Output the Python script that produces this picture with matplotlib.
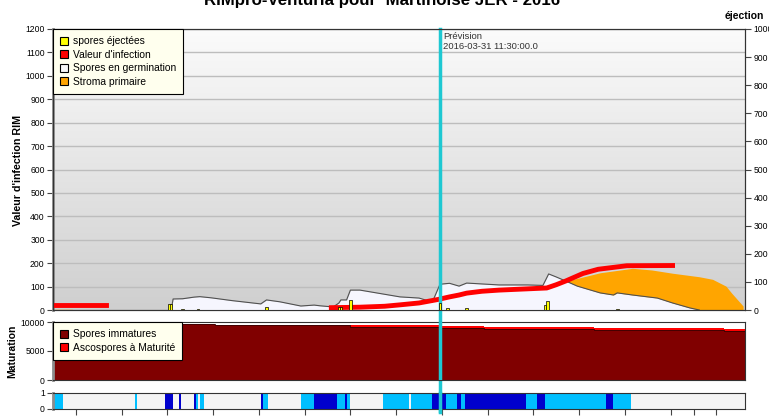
import numpy as np
import matplotlib
matplotlib.use("Agg")
import matplotlib.pyplot as plt
import matplotlib.dates as mdates
from matplotlib.patches import Patch
from matplotlib.colors import LinearSegmentedColormap

plt.rcParams['font.family'] = ['Liberation Sans', 'DejaVu Sans']

# --- data ---
x_start, x_end = "2016-03-27 06:00", "2016-04-03 19:30"
prevision = "2016-03-31 11:30"

# valeur d'infection RIM (two pieces)
inf_a_time = ["2016-03-27 06:00", "2016-03-27 20:00"]
inf_a_val = [20, 20]
inf_b_time = ["2016-03-30 07:00", "2016-03-30 14:30", "2016-03-30 21:00", "2016-03-31 01:00",
              "2016-03-31 06:00", "2016-03-31 11:00", "2016-03-31 14:00", "2016-03-31 16:30",
              "2016-03-31 18:30", "2016-03-31 22:30", "2016-04-01 03:00", "2016-04-01 15:30",
              "2016-04-01 18:00", "2016-04-01 20:30", "2016-04-02 01:00", "2016-04-02 05:00",
              "2016-04-02 12:30", "2016-04-03 00:30"]
inf_b_val = [10, 12, 16, 22, 30, 45, 56, 64, 72, 80, 85, 94, 108, 124, 156, 174, 189, 190]

# spores en germination
germ_time = ["2016-03-28 13:00", "2016-03-28 13:30", "2016-03-28 16:00", "2016-03-28 19:00",
             "2016-03-28 20:30", "2016-03-28 23:30", "2016-03-29 05:00", "2016-03-29 12:30",
             "2016-03-29 14:00", "2016-03-29 17:30", "2016-03-29 23:00", "2016-03-30 02:30",
             "2016-03-30 04:00", "2016-03-30 07:30", "2016-03-30 09:00", "2016-03-30 09:30",
             "2016-03-30 11:00", "2016-03-30 12:00", "2016-03-30 14:30", "2016-03-31 01:00",
             "2016-03-31 06:00", "2016-03-31 09:30", "2016-03-31 11:30", "2016-03-31 14:00",
             "2016-03-31 16:30", "2016-03-31 18:30", "2016-04-01 03:00", "2016-04-01 10:30",
             "2016-04-01 14:30", "2016-04-01 16:00", "2016-04-01 18:00", "2016-04-01 21:00",
             "2016-04-01 23:30", "2016-04-02 05:30", "2016-04-02 09:00", "2016-04-02 10:00",
             "2016-04-02 14:00", "2016-04-02 20:30", "2016-04-03 00:30", "2016-04-03 05:00",
             "2016-04-03 07:30"]
germ_val = [0, 47, 48, 55, 57, 52, 40, 26, 43, 35, 17, 21, 18, 13, 30, 43, 43, 85, 85, 56,
            51, 34, 110, 114, 102, 115, 107, 107, 105, 154, 141, 120, 102, 73, 64, 73, 64, 51,
            30, 9, 0]

# stroma primaire
stroma_time = ["2016-03-27 06:00", "2016-03-27 11:00", "2016-03-27 11:30", "2016-04-01 14:00",
               "2016-04-01 18:00", "2016-04-01 21:00", "2016-04-01 23:30", "2016-04-02 05:30",
               "2016-04-02 14:00", "2016-04-02 19:00", "2016-04-03 00:30", "2016-04-03 07:30",
               "2016-04-03 11:00", "2016-04-03 14:30", "2016-04-03 16:00", "2016-04-03 19:00"]
stroma_val = [3, 3, 0, 0, 90, 125, 135, 159, 178, 171, 157, 142, 131, 102, 72, 17]

# spores éjectées (right axis)
eject_time = ["2016-03-28 12:30", "2016-03-28 13:00", "2016-03-28 16:00", "2016-03-28 20:00",
              "2016-03-29 14:00", "2016-03-30 09:00", "2016-03-30 09:30", "2016-03-30 12:00",
              "2016-03-31 11:30", "2016-03-31 13:30", "2016-03-31 18:30", "2016-04-01 15:00",
              "2016-04-01 15:45", "2016-04-02 10:00"]
eject_val = [22, 22, 3, 2, 11, 10, 10, 36, 24, 8, 8, 18, 33, 5]

# maturation (steps)
mat_time = ["2016-03-27 06:00", "2016-03-28 14:30", "2016-03-29 00:30", "2016-03-29 16:30",
            "2016-03-30 12:00", "2016-03-31 11:30", "2016-03-31 23:00", "2016-04-02 04:00",
            "2016-04-03 00:00", "2016-04-03 14:00", "2016-04-03 19:30"]
immature_val = [9850, 9650, 9500, 9450, 9200, 8950, 8850, 8650, 8550, 8450, 8450]
mature_val = [50, 60, 60, 80, 200, 350, 300, 300, 350, 400, 400]

# bottom strip: segment start times (last = end) and state 0/1/2
wet_time = ["2016-03-27 06:00", "2016-03-27 08:30", "2016-03-28 03:30", "2016-03-28 04:00",
            "2016-03-28 11:30", "2016-03-28 13:30", "2016-03-28 15:00", "2016-03-28 15:30",
            "2016-03-28 19:00", "2016-03-28 19:30", "2016-03-28 20:00", "2016-03-28 20:30",
            "2016-03-28 21:30", "2016-03-29 12:30", "2016-03-29 13:00", "2016-03-29 14:30",
            "2016-03-29 23:00", "2016-03-30 02:30", "2016-03-30 08:30", "2016-03-30 10:30",
            "2016-03-30 11:00", "2016-03-30 12:00", "2016-03-30 20:30", "2016-03-31 03:30",
            "2016-03-31 04:00", "2016-03-31 09:30", "2016-03-31 13:00", "2016-03-31 16:00",
            "2016-03-31 17:00", "2016-03-31 18:00", "2016-04-01 10:00", "2016-04-01 13:00",
            "2016-04-01 15:00", "2016-04-02 07:00", "2016-04-02 09:00", "2016-04-02 13:30",
            "2016-04-03 19:30"]
wet_state = [1, 0, 1, 0, 2, 0, 2, 0, 2, 1, 0, 1, 0, 2, 1, 0, 1, 2, 1, 2, 1, 0, 1, 0, 1, 2,
             1, 2, 1, 2, 1, 2, 1, 2, 1, 0]
wet_colors = ['#F4F4F4', '#00BFFF', '#0000CD']

tick_time = ["2016-03-27 12:00", "2016-03-28 00:00", "2016-03-28 12:00", "2016-03-29 00:00",
             "2016-03-29 12:00", "2016-03-30 00:00", "2016-03-30 12:00", "2016-03-31 00:00",
             "2016-03-31 12:00", "2016-04-01 00:00", "2016-04-01 12:00", "2016-04-02 00:00",
             "2016-04-02 12:00", "2016-04-03 00:00", "2016-04-03 06:00", "2016-04-03 12:00"]
tick_label = ["", "Mar 28", "", "29", "", "30", "", "31", "", "Apr 1", "", "2", "", "3",
              "6:00", ""]

d = mdates.datestr2num

# --- figure ---
W, H = 769, 418
fig = plt.figure(figsize=(W / 100, H / 100), dpi=100)


def box(x0, y0, x1, y1):
    return [x0 / W, 1 - y1 / H, (x1 - x0) / W, (y1 - y0) / H]


ax = fig.add_axes(box(53, 29, 745, 310))
ax2 = ax.twinx()
axm = fig.add_axes(box(53, 322, 745, 380), sharex=ax)
axw = fig.add_axes(box(53, 393, 745, 409), sharex=ax)

fs = 6.2
for a in (ax, ax2, axm, axw):
    for s in a.spines.values():
        s.set_color('#333333')
        s.set_linewidth(0.8)
    a.tick_params(labelsize=fs, length=4, width=0.8, color='#444444', pad=2)
for a in (ax, axm, axw):
    a.spines['left'].set_color('#8C8C8C')
    a.spines['left'].set_linewidth(2)

# background gradient
grad = np.linspace(0, 1, 256).reshape(-1, 1)
bg = LinearSegmentedColormap.from_list('bg', ['#CFCFCF', '#FBFBFB'])
ax.imshow(grad, extent=[0, 1, 0, 1], transform=ax.transAxes, aspect='auto',
          cmap=bg, origin='lower', zorder=-5)
ax.yaxis.grid(True, color='#BDBDBD', lw=1)
ax.set_axisbelow(True)

ax.fill_between(d(stroma_time), stroma_val, color='#FFA500', lw=0, zorder=2)
ax.fill_between(d(germ_time), germ_val, color='#F6F6FE', lw=0, zorder=3)
ax.plot(d(germ_time), germ_val, color='#505050', lw=0.8, zorder=3.5)
ax.plot(d(inf_a_time), inf_a_val, color='#FF0000', lw=3.5, zorder=5)
ax.plot(d(inf_b_time), inf_b_val, color='#FF0000', lw=3.5, zorder=5,
        solid_joinstyle='round')

ax2.bar(d(eject_time), eject_val, width=0.028, color='#FFFF00', edgecolor='black',
        lw=0.5, zorder=6)

ax.set_xlim(d(x_start), d(x_end))
ax.set_ylim(0, 1200)
ax.set_yticks(np.arange(0, 1201, 100))
ax2.set_ylim(0, 1000)
ax2.set_yticks(np.arange(0, 1001, 100))
ax.tick_params(axis='x', bottom=False, labelbottom=False)
ax2.tick_params(axis='x', bottom=False, labelbottom=False)

# prevision line across all panels
pv = d(prevision)
ax.axvline(pv, ymin=-0.36, ymax=1, color='#1EC8D2', lw=2.5, zorder=7, clip_on=False)
axm.axvline(pv, color='#1EC8D2', lw=2.5, zorder=7)
axw.axvline(pv, ymin=-0.2, ymax=1, color='#1EC8D2', lw=2.5, zorder=7, clip_on=False)
ax2.annotate("Prévision\n2016-03-31 11:30:00.0", xy=(pv, 1), xycoords=ax.get_xaxis_transform(),
             xytext=(2, -2), textcoords='offset points', ha='left', va='top',
             fontsize=6.8, color='#333333', linespacing=1.15)

handles = [Patch(facecolor='#FFFF00', edgecolor='black', lw=0.8, label='spores éjectées'),
           Patch(facecolor='#FF0000', edgecolor='black', lw=0.8, label="Valeur d'infection"),
           Patch(facecolor='#F8F8F8', edgecolor='black', lw=0.8, label='Spores en germination'),
           Patch(facecolor='#FFA500', edgecolor='black', lw=0.8, label='Stroma primaire')]
leg = ax2.legend(handles=handles, loc='upper left', bbox_to_anchor=(0, 1), borderaxespad=0,
                 fancybox=False, edgecolor='black', facecolor='#FFFFEE', framealpha=1,
                 fontsize=7.4, handlelength=0.8, handleheight=0.8, handletextpad=0.4,
                 labelspacing=0.35, borderpad=0.7)
leg.get_frame().set_linewidth(0.8)
leg.set_zorder(10)

# maturation panel
mt = d(mat_time)
imm = np.array(immature_val)
mat = np.array(mature_val)
axm.fill_between(mt, 0, imm, step='post', color='#800000', lw=0)
axm.fill_between(mt, imm, imm + mat, step='post', color='#FF0000', lw=0)
axm.step(mt, imm, where='post', color='#3A0000', lw=0.6)
axm.set_ylim(0, 10000)
axm.set_yticks([0, 5000, 10000])
axm.set_facecolor('white')
axm.tick_params(axis='x', bottom=False, labelbottom=False)
mh = [Patch(facecolor='#800000', edgecolor='black', lw=0.8, label='Spores immatures'),
      Patch(facecolor='#FF0000', edgecolor='black', lw=0.8, label='Ascospores à Maturité')]
leg2 = axm.legend(handles=mh, loc='upper left', bbox_to_anchor=(0, 1), borderaxespad=0,
                  fancybox=False, edgecolor='black', facecolor='#FFFFEE', framealpha=1,
                  fontsize=7.4, handlelength=0.8, handleheight=0.8, handletextpad=0.4,
                  labelspacing=0.35, borderpad=0.7)
leg2.get_frame().set_linewidth(0.8)

# wetness strip
wt = d(wet_time)
axw.bar(wt[:-1], 1, width=np.diff(wt), align='edge',
        color=[wet_colors[s] for s in wet_state], lw=0)
axw.set_ylim(0, 1)
axw.set_yticks([0, 1])
axw.set_xticks(d(tick_time))
axw.set_xticklabels(tick_label)
axw.tick_params(axis='x', length=4, pad=2)

fig.text(382 / W, 1 - 5 / H, "RIMpro-Venturia pour  Martinoise JER - 2016", ha='center',
         va='baseline', fontsize=12.2, fontweight='bold')
fig.text(744 / W, 1 - 16 / H, "éjection", ha='center', va='center', fontsize=7.5,
         fontweight='bold')
fig.text(18 / W, 1 - 170 / H, "Valeur d'infection RIM", rotation=90, ha='center',
         va='center', fontsize=7.7, fontweight='bold')
fig.text(12.5 / W, 1 - 351 / H, "Maturation", rotation=90, ha='center', va='center',
         fontsize=7.5, fontweight='bold')

fig.savefig("out.png", dpi=100)
